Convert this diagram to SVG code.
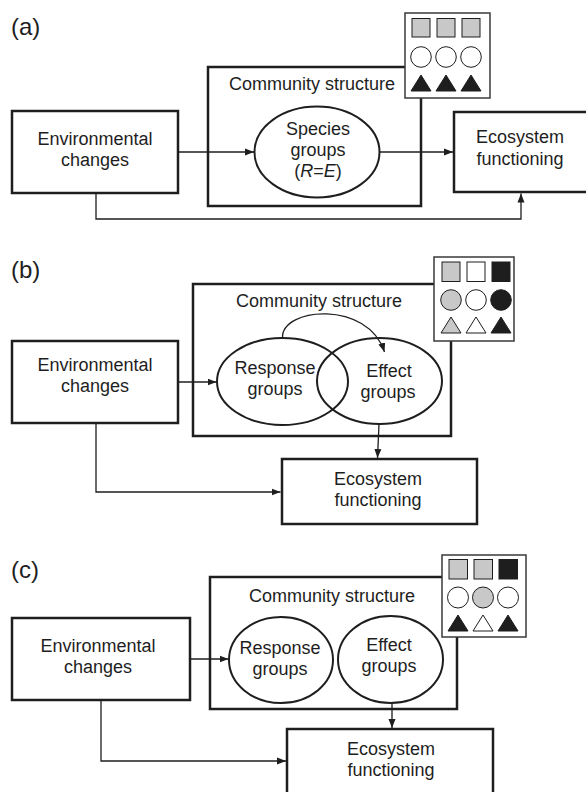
<svg xmlns="http://www.w3.org/2000/svg" width="586" height="792" viewBox="0 0 586 792">
<style>
text{font-family:"Liberation Sans",Arial,sans-serif;font-size:18px;fill:#1e1e1e;text-anchor:middle}
.lab{font-size:24px;text-anchor:start}
.box{fill:none;stroke:#1e1e1e;stroke-width:2.5}
.ell{fill:none;stroke:#1e1e1e;stroke-width:2}
.leg{fill:#fff;stroke:#3a3a3a;stroke-width:1.5}
.con{fill:none;stroke:#1e1e1e;stroke-width:1.3}
.g{fill:#c8c8c8;stroke:#1e1e1e;stroke-width:1}
.w{fill:#fff;stroke:#1e1e1e;stroke-width:1}
.k{fill:#1e1e1e;stroke:#1e1e1e;stroke-width:1}
</style>
<defs>
<marker id="ah" markerUnits="userSpaceOnUse" markerWidth="10" markerHeight="8" refX="9" refY="4" orient="auto">
<path d="M0,0.5 L9,4 L0,7.5 Z" fill="#1e1e1e"/>
</marker>
</defs>

<!-- Panel a -->
<text class="lab" x="11" y="35">(a)</text>
<g id="a-community">
<rect class="box" x="208" y="67" width="213" height="139"/>
<text x="312" y="90">Community structure</text>
</g>
<g id="a-legend">
<rect class="leg" x="405" y="13" width="85" height="85"/>
<rect class="g" x="412" y="18.5" width="18" height="18.5"/>
<rect class="g" x="437" y="18.5" width="18" height="18.5"/>
<rect class="g" x="462" y="18.5" width="18" height="18.5"/>
<circle class="w" cx="421" cy="57" r="10.3"/>
<circle class="w" cx="446" cy="57" r="10.3"/>
<circle class="w" cx="471" cy="57" r="10.3"/>
<polygon class="k" points="421,75 431,91 411,91"/>
<polygon class="k" points="446,75 456,91 436,91"/>
<polygon class="k" points="471,75 481,91 461,91"/>
</g>
<g id="a-env">
<rect class="box" x="12" y="111" width="166" height="82"/>
<text x="95" y="145">Environmental</text>
<text x="95" y="166">changes</text>
</g>
<g id="a-species">
<ellipse class="ell" cx="317" cy="152" rx="62.5" ry="45.5"/>
<text x="318" y="135">Species</text>
<text x="318" y="156">groups</text>
<text x="318" y="177">(<tspan font-style="italic">R</tspan>=<tspan font-style="italic">E</tspan>)</text>
</g>
<g id="a-eco">
<rect class="box" x="454" y="112" width="140" height="80"/>
<text x="520" y="143">Ecosystem</text>
<text x="520" y="165">functioning</text>
</g>
<g id="a-connectors">
<path class="con" d="M178,152 H254" marker-end="url(#ah)"/>
<path class="con" d="M379.5,152 H453" marker-end="url(#ah)"/>
<path class="con" d="M96,193 V219 H521 V193.5" marker-end="url(#ah)"/>
</g>

<!-- Panel b -->
<text class="lab" x="11" y="278">(b)</text>
<g id="b-community">
<rect class="box" x="193" y="284" width="258" height="152"/>
<text x="319" y="307">Community structure</text>
</g>
<g id="b-legend">
<rect class="leg" x="434" y="257" width="80" height="84"/>
<rect class="g" x="442" y="262" width="18" height="19.5"/>
<rect class="w" x="467" y="262" width="18" height="19.5"/>
<rect class="k" x="492" y="262" width="18" height="19.5"/>
<circle class="g" cx="451" cy="300" r="10.3"/>
<circle class="w" cx="476" cy="300" r="10.3"/>
<circle class="k" cx="501" cy="300" r="10.3"/>
<polygon class="g" points="451,317 461,333 441,333"/>
<polygon class="w" points="476,317 486,333 466,333"/>
<polygon class="k" points="501,317 511,333 491,333"/>
</g>
<g id="b-env">
<rect class="box" x="12" y="341" width="166" height="82"/>
<text x="95" y="371">Environmental</text>
<text x="95" y="392">changes</text>
</g>
<g id="b-response">
<ellipse class="ell" cx="282.5" cy="381.5" rx="65.5" ry="43.5"/>
<text x="275" y="374">Response</text>
<text x="275" y="395">groups</text>
</g>
<g id="b-effect">
<ellipse class="ell" cx="379.5" cy="381" rx="62.5" ry="43"/>
<text x="389" y="377">Effect</text>
<text x="388" y="398">groups</text>
</g>
<g id="b-eco">
<rect class="box" x="282" y="459" width="195" height="65"/>
<text x="378" y="485">Ecosystem</text>
<text x="378" y="506">functioning</text>
</g>
<g id="b-connectors">
<path class="con" d="M178,382 H216.5" marker-end="url(#ah)"/>
<path class="con" d="M282.5,338 C281,307 368,300 384.5,352" marker-end="url(#ah)"/>
<path class="con" d="M379,424 L377.5,458" marker-end="url(#ah)"/>
<path class="con" d="M96,423 V492 H280.5" marker-end="url(#ah)"/>
</g>

<!-- Panel c -->
<text class="lab" x="11" y="578">(c)</text>
<g id="c-community">
<rect class="box" x="210" y="577" width="247" height="132"/>
<text x="332" y="602">Community structure</text>
</g>
<g id="c-legend">
<rect class="leg" x="442" y="555" width="84" height="82"/>
<rect class="g" x="449" y="559.5" width="18.5" height="19.5"/>
<rect class="g" x="474" y="559.5" width="18.5" height="19.5"/>
<rect class="k" x="499" y="559.5" width="18.5" height="19.5"/>
<circle class="w" cx="458" cy="597.5" r="10.5"/>
<circle class="g" cx="483" cy="597.5" r="10.5"/>
<circle class="w" cx="508" cy="597.5" r="10.5"/>
<polygon class="k" points="458,615 468,631 448,631"/>
<polygon class="w" points="483,615 493,631 473,631"/>
<polygon class="k" points="508,615 518,631 498,631"/>
</g>
<g id="c-env">
<rect class="box" x="12" y="618" width="178" height="82"/>
<text x="98" y="652">Environmental</text>
<text x="98" y="673">changes</text>
</g>
<g id="c-response">
<ellipse class="ell" cx="281" cy="660" rx="52" ry="43"/>
<text x="280" y="654">Response</text>
<text x="280" y="675">groups</text>
</g>
<g id="c-effect">
<ellipse class="ell" cx="390.5" cy="659.5" rx="52.5" ry="43.5"/>
<text x="389" y="651">Effect</text>
<text x="389" y="672">groups</text>
</g>
<g id="c-eco">
<rect class="box" x="287" y="729" width="206" height="80"/>
<text x="391" y="755">Ecosystem</text>
<text x="391" y="776">functioning</text>
</g>
<g id="c-connectors">
<path class="con" d="M190,659 H228.5" marker-end="url(#ah)"/>
<path class="con" d="M392,703 V728" marker-end="url(#ah)"/>
<path class="con" d="M101,700 V761 H286" marker-end="url(#ah)"/>
</g>
</svg>
